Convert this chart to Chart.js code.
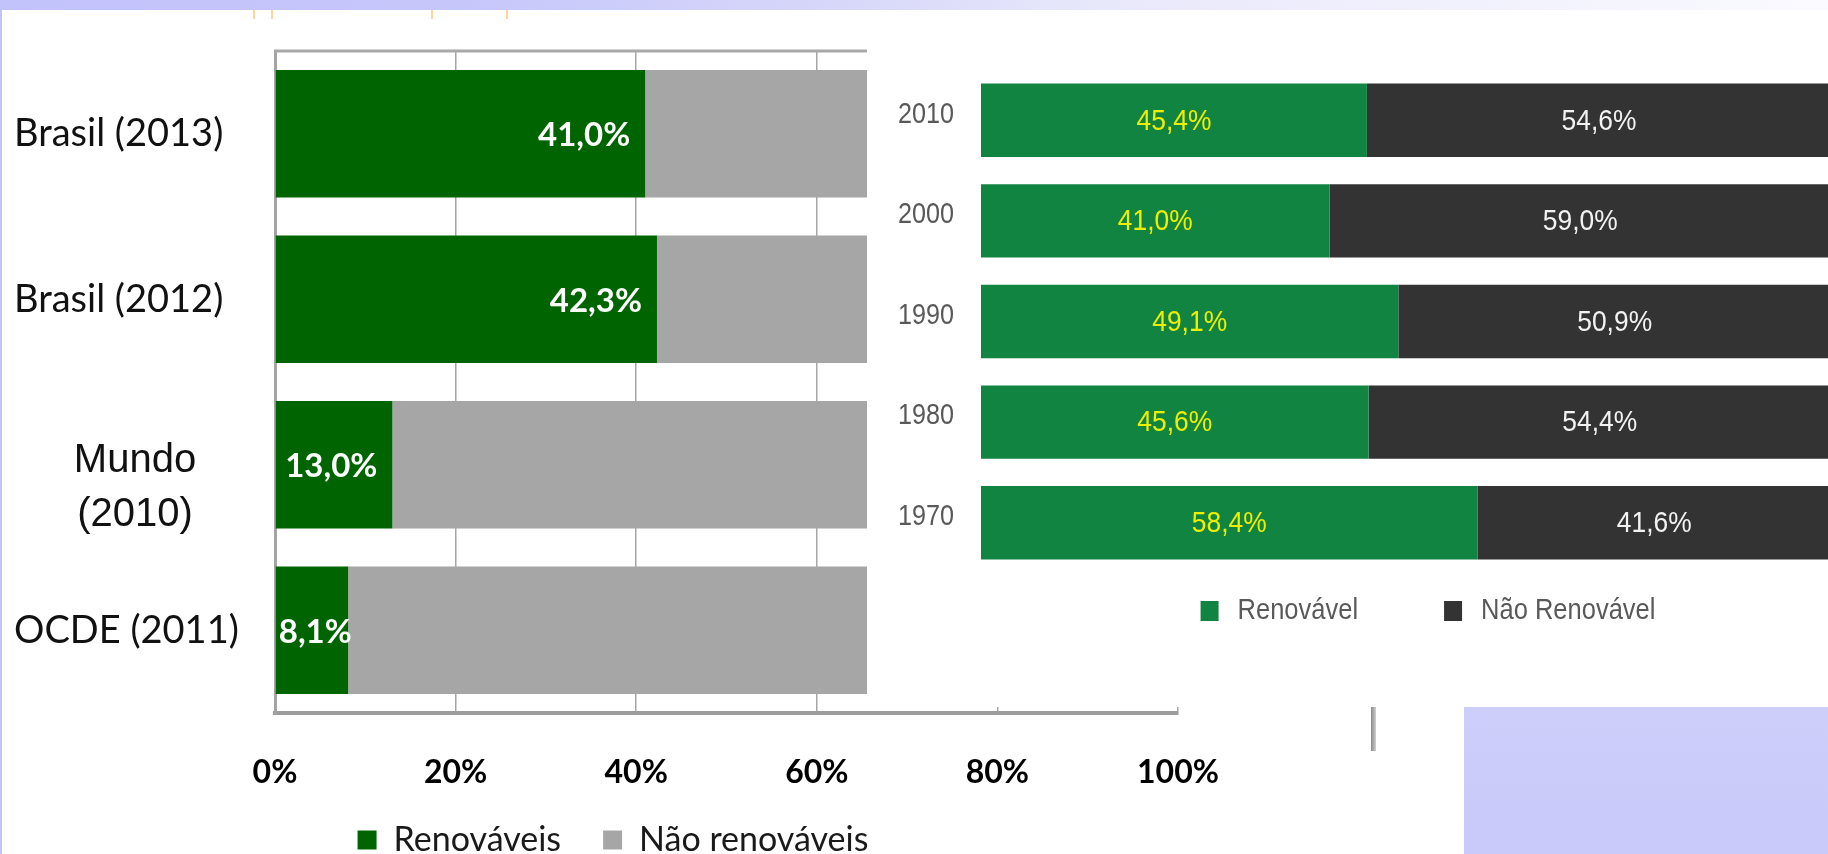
<!DOCTYPE html>
<html lang="pt-BR">
<head>
<meta charset="utf-8">
<title>Matriz energética: participação de fontes renováveis</title>
<script src="https://cdn.jsdelivr.net/npm/chart.js@4.4.0/dist/chart.umd.min.js"></script>
<style>
  html, body { margin: 0; padding: 0; width: 1828px; height: 854px; overflow: hidden; background: #fff; }
  #stage { position: relative; width: 1828px; height: 854px; overflow: hidden; background: #fff; }
  #cLeft { position: absolute; left: 0; top: 0; }
  #cRight { position: absolute; left: 867px; top: 10px; background: #fff; }
  .band { position: absolute; left: 0; top: 0; width: 1828px; height: 10px;
          background: linear-gradient(to right, #c3c3fb 0%, #c6c6fb 25%, #d8d8fa 47%, #e8e8fb 60%, #fafaff 100%); }
  .edge { position: absolute; left: 0; top: 0; width: 2px; height: 854px; background: #c3c3fb; }
  .panel { position: absolute; left: 1464px; top: 707px; width: 364px; height: 147px;
           background: linear-gradient(to bottom, #cecefa, #c9c9fa); }
  .rule { position: absolute; left: 1371px; top: 707px; width: 5px; height: 44px;
          background: linear-gradient(to right, #8a8a8a, #d0d0d0); }
  .mark { position: absolute; top: 10px; width: 2px; height: 9px; background: #fbd79c; }
</style>
</head>
<body>
<div id="stage">
  <canvas id="cLeft" width="1828" height="889"></canvas>
  <canvas id="cRight" width="1000" height="697"></canvas>
  <div class="band"></div>
  <div class="edge"></div>
  <div class="mark" style="left:253px"></div>
  <div class="mark" style="left:271px"></div>
  <div class="mark" style="left:431px"></div>
  <div class="mark" style="left:506px"></div>
  <div class="rule"></div>
  <div class="panel"></div>
</div>
<script>
// ---- Comparação: participação de renováveis na oferta interna de energia ----
const regioes = ['Brasil (2013)', 'Brasil (2012)', ['Mundo', '(2010)'], 'OCDE (2011)'];
const renovaveis = [41.0, 42.3, 13.0, 8.1];
const naoRenovaveis = [59.0, 57.7, 87.0, 91.9];
const ticksPercentuais = [0, 20, 40, 60, 80, 100];

// ---- Série histórica do Brasil ----
const anos = ['2010', '2000', '1990', '1980', '1970'];
const renovavel = [45.4, 41.0, 49.1, 45.6, 58.4];
const naoRenovavel = [54.6, 59.0, 50.9, 54.4, 41.6];

const fmtPct = v => v.toFixed(1).replace('.', ',') + '%';

// Text squeezed horizontally, for the narrow lettering of the historical chart.
function fillNarrow(ctx, text, x, y, align, sx) {
  ctx.save();
  ctx.translate(x, y);
  ctx.scale(sx, 1);
  ctx.textAlign = align;
  ctx.fillText(text, 0, 0);
  ctx.restore();
}
function narrowWidth(ctx, text, sx) { return ctx.measureText(text).width * sx; }

// Moves the built-in legend box after layout (Chart.js still draws it).
const legendNudge = {
  id: 'legendNudge',
  afterLayout(chart, args, opts) {
    const lg = chart.legend;
    if (!lg) return;
    const dx = opts.dx || 0, dy = opts.dy || 0;
    lg.left += dx; lg.right += dx; lg.top += dy; lg.bottom += dy;
  }
};

// Category names at the left of the comparison chart.
const categoryNames = {
  id: 'categoryNames',
  afterDraw(chart, args, opts) {
    const ctx = chart.ctx, ys = chart.scales.y;
    ctx.save();
    ctx.fillStyle = opts.color;
    ctx.textBaseline = 'middle';
    chart.data.labels.forEach((lab, i) => {
      const yc = ys.getPixelForValue(i);
      const st = Object.assign({}, opts.base, (opts.special || {})[i] || {});
      ctx.font = st.font;
      ctx.textAlign = st.align;
      const lines = Array.isArray(lab) ? lab : [lab];
      const y0 = yc + st.dy - (lines.length - 1) * st.lineGap / 2;
      lines.forEach((t, k) => ctx.fillText(t, st.x, y0 + k * st.lineGap));
    });
    ctx.restore();
  }
};

// Percentages written inside the green bars, near the bar end.
const insideEndLabels = {
  id: 'insideEndLabels',
  afterDatasetsDraw(chart, args, opts) {
    const ctx = chart.ctx;
    const meta = chart.getDatasetMeta(0);
    const data = chart.data.datasets[0].data;
    ctx.save();
    ctx.font = opts.font;
    ctx.fillStyle = opts.color;
    ctx.textBaseline = 'middle';
    ctx.textAlign = 'right';
    meta.data.forEach((bar, i) => {
      const p = bar.getProps(['x', 'y', 'base'], true);
      const txt = fmtPct(data[i]);
      const w = ctx.measureText(txt).width;
      let xr = p.x - opts.pad;
      if (xr - w < p.base + opts.minLeft) xr = p.base + opts.minLeft + w;
      ctx.fillText(txt, xr, p.y + 2);
    });
    ctx.restore();
  }
};

// Top frame line of the comparison plot area.
const topFrame = {
  id: 'topFrame',
  beforeDatasetsDraw(chart, args, opts) {
    const {ctx, chartArea: a} = chart;
    ctx.save();
    ctx.strokeStyle = opts.color;
    ctx.lineWidth = opts.width;
    ctx.beginPath();
    ctx.moveTo(a.left - 1, a.top);
    ctx.lineTo(a.right, a.top);
    ctx.stroke();
    ctx.restore();
  }
};

// Year names beside the historical bars.
const yearNames = {
  id: 'yearNames',
  afterDraw(chart, args, opts) {
    const ctx = chart.ctx, ys = chart.scales.y, a = chart.chartArea;
    ctx.save();
    ctx.font = opts.font;
    ctx.fillStyle = opts.color;
    ctx.textBaseline = 'middle';
    chart.data.labels.forEach((lab, i) => {
      fillNarrow(ctx, lab, a.left - opts.gap, ys.getPixelForValue(i) + opts.dy, 'right', opts.sx);
    });
    ctx.restore();
  }
};

// Centered percentages for both segments of each historical bar.
const segmentLabels = {
  id: 'segmentLabels',
  afterDatasetsDraw(chart, args, opts) {
    const ctx = chart.ctx;
    ctx.save();
    ctx.font = opts.font;
    ctx.textBaseline = 'middle';
    chart.data.datasets.forEach((ds, di) => {
      ctx.fillStyle = opts.colors[di];
      chart.getDatasetMeta(di).data.forEach((bar, i) => {
        const p = bar.getProps(['x', 'y', 'base'], true);
        fillNarrow(ctx, fmtPct(ds.data[i]), (p.x + p.base) / 2, p.y + 1, 'center', opts.sx);
      });
    });
    ctx.restore();
  }
};

// Legend of the historical chart, one row, narrow lettering.
const narrowLegend = {
  id: 'narrowLegend',
  afterDraw(chart, args, opts) {
    const ctx = chart.ctx;
    ctx.save();
    ctx.font = opts.font;
    ctx.textBaseline = 'middle';
    const items = chart.data.datasets.map(ds => ({
      text: ds.label, color: ds.backgroundColor,
      w: opts.box + opts.textGap + narrowWidth(ctx, ds.label, opts.sx)
    }));
    const total = items.reduce((s, it) => s + it.w, 0) + opts.itemGap * (items.length - 1);
    let x = opts.cx - total / 2;
    items.forEach(it => {
      ctx.fillStyle = it.color;
      ctx.fillRect(x, opts.cy - opts.boxH / 2, opts.box, opts.boxH);
      ctx.fillStyle = opts.color;
      fillNarrow(ctx, it.text, x + opts.box + opts.textGap, opts.cy, 'left', opts.sx);
      x += it.w + opts.itemGap;
    });
    ctx.restore();
  }
};

new Chart(document.getElementById('cLeft'), {
  type: 'bar',
  data: {
    labels: regioes,
    datasets: [
      { label: 'Renováveis', data: renovaveis, backgroundColor: '#006400',
        barPercentage: 0.77, categoryPercentage: 1 },
      { label: 'Não renováveis', data: naoRenovaveis, backgroundColor: '#a6a6a6',
        barPercentage: 0.77, categoryPercentage: 1 }
    ]
  },
  options: {
    indexAxis: 'y',
    responsive: false,
    animation: false,
    layout: { padding: { left: 0, top: 51, right: 650, bottom: 0 } },
    scales: {
      x: {
        stacked: true, min: 0, max: 100,
        afterBuildTicks: s => { s.ticks = ticksPercentuais.map(v => ({ value: v })); },
        afterFit: s => { s.height = 90; },
        ticks: { callback: v => v + '%', color: '#000', padding: 40,
                 font: { family: 'Lato', size: 32, weight: 'bold' } },
        grid: { color: '#a6a6a6', lineWidth: 1.5, drawTicks: false },
        border: { color: '#9c9c9c', width: 4 }
      },
      y: {
        stacked: true,
        afterFit: s => { s.width = 275; },
        ticks: { display: false },
        grid: { display: false, drawTicks: false },
        border: { color: '#a4a4a4', width: 3 }
      }
    },
    plugins: {
      legend: {
        position: 'bottom',
        labels: { boxWidth: 19, boxHeight: 19, padding: 42, color: '#1a1a1a',
                  font: { family: 'Lato', size: 34 } }
      },
      tooltip: { enabled: false },
      legendNudge: { dx: 24, dy: -22 },
      categoryNames: {
        color: '#111',
        base: { font: '38px Lato', align: 'left', x: 14, dy: 0, lineGap: 0 },
        special: { 2: { font: '40px "Liberation Sans", Arial, sans-serif', align: 'center',
                        x: 135, dy: 23, lineGap: 54 } }
      },
      insideEndLabels: { font: 'bold 33px Lato', color: '#ffffff', pad: 15, minLeft: 3 },
      topFrame: { color: '#a8a8a8', width: 3 }
    }
  },
  plugins: [legendNudge, categoryNames, insideEndLabels, topFrame]
});

const narrowFont = '30px "Liberation Sans", Arial, sans-serif';

new Chart(document.getElementById('cRight'), {
  type: 'bar',
  data: {
    labels: anos,
    datasets: [
      { label: 'Renovável', data: renovavel, backgroundColor: '#118442',
        barPercentage: 0.73, categoryPercentage: 1 },
      { label: 'Não Renovável', data: naoRenovavel, backgroundColor: '#333333',
        barPercentage: 0.73, categoryPercentage: 1 }
    ]
  },
  options: {
    indexAxis: 'y',
    responsive: false,
    animation: false,
    layout: { padding: { left: 0, top: 60, right: 36, bottom: 134 } },
    scales: {
      x: { stacked: true, min: 0, max: 100, display: false },
      y: {
        stacked: true,
        afterFit: s => { s.width = 114; },
        ticks: { display: false },
        grid: { display: false, drawTicks: false },
        border: { display: false }
      }
    },
    plugins: {
      legend: { display: false },
      tooltip: { enabled: false },
      yearNames: { font: narrowFont, color: '#595959', gap: 27, dy: -6, sx: 0.84 },
      segmentLabels: { font: narrowFont, colors: ['#eeee00', '#f2f2f2'], sx: 0.88 },
      narrowLegend: { font: narrowFont, color: '#595959', sx: 0.85, box: 18, boxH: 20,
                      textGap: 19, itemGap: 86, cx: 561, cy: 601 }
    }
  },
  plugins: [yearNames, segmentLabels, narrowLegend]
});
</script>
</body>
</html>
